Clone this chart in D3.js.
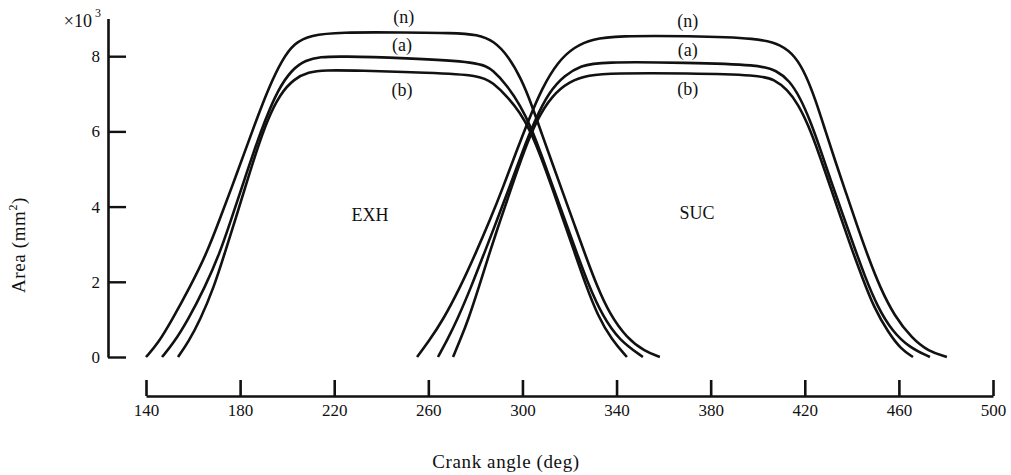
<html>
<script src='https://d3js.org/d3.v7.min.js'></script>
<style>
  body {margin: 0; background: #fff;}
  text {font-family: 'Liberation Serif', 'DejaVu Serif', serif; fill: #111;}
  .curve {fill: none; stroke: #111; stroke-width: 2.6;}
</style>
<body onload='init()'>
<svg width=1011 height=475></svg>
<script>
// crank angle (deg) vs area (x10^3 mm^2)
var exhN = [[140,0],[145,0.35],[151,0.98],[158.7,1.86],[165.9,2.77],[171.2,3.64],[176.5,4.52],[181.8,5.43],[186.9,6.3],[192.3,7.18],[197.8,7.9],[203,8.35],[210,8.56],[222,8.64],[250,8.63],[270,8.62],[281,8.58],[288,8.4],[294,8.0],[299.5,7.4],[304,6.7],[308.4,5.9],[313,5.1],[317.6,4.3],[322.2,3.5],[326.8,2.7],[331.6,1.9],[337,1.15],[344.4,0.5],[352,0.15],[358.4,0]];
var exhA = [[146.8,0],[151.5,0.35],[157.8,0.98],[165.1,1.86],[171.4,2.77],[176.1,3.64],[180.8,4.52],[185.6,5.43],[190.6,6.3],[196,7.1],[202,7.65],[208,7.9],[214,7.98],[222.4,8.0],[250,7.95],[282,7.85],[287.5,7.63],[293.5,7.22],[299,6.7],[303.8,6.1],[308.5,5.3],[313.4,4.45],[318.3,3.6],[323.2,2.75],[328.2,1.9],[334,1.1],[341,0.45],[351.2,0]];
var exhB = [[153.6,0],[158,0.4],[163,0.98],[168.9,1.86],[173.5,2.77],[177.9,3.64],[182.2,4.52],[186.7,5.43],[191.5,6.3],[197,7.0],[203,7.4],[209,7.58],[216,7.63],[230,7.62],[260,7.56],[282,7.5],[287.5,7.29],[293.5,6.93],[299,6.5],[303.5,6.0],[308,5.3],[312.6,4.5],[317.4,3.64],[322.2,2.77],[327,1.9],[332,1.1],[338,0.45],[344.4,0]];
var sucN = [[255.2,0],[260,0.4],[266.2,0.98],[273.6,1.86],[280.2,2.77],[286.2,3.64],[291.8,4.52],[297.2,5.43],[302.6,6.3],[308.3,7.15],[315,7.85],[322,8.25],[330,8.46],[340.2,8.54],[370,8.54],[400.9,8.48],[410,8.3],[416,8.0],[420.5,7.5],[424.5,6.85],[428.6,6.05],[433,5.2],[437.6,4.35],[442.2,3.5],[447,2.65],[452,1.85],[458,1.1],[465.5,0.5],[472.5,0.15],[480.4,0]];
var sucA = [[264.1,0],[268,0.45],[272.2,0.98],[278.2,1.86],[283.8,2.77],[289.2,3.64],[294.5,4.52],[299.8,5.43],[305.3,6.3],[311.3,7.05],[318,7.5],[325,7.75],[332.9,7.85],[370,7.83],[400.9,7.77],[408,7.62],[413.5,7.35],[418,6.9],[422.2,6.3],[426.5,5.55],[431,4.7],[435.8,3.85],[440.6,3.0],[445.5,2.15],[450.8,1.35],[457,0.7],[464.5,0.25],[473.2,0]];
var sucB = [[270.5,0],[273.5,0.45],[276.9,0.98],[281.5,1.86],[286,2.77],[290.6,3.64],[295.4,4.52],[300.4,5.43],[306,6.3],[312.5,6.95],[320,7.33],[328,7.5],[338.5,7.55],[370,7.55],[400.9,7.5],[407,7.38],[412.5,7.12],[417.2,6.72],[421.6,6.15],[425.8,5.45],[430.2,4.65],[434.8,3.8],[439.5,2.95],[444.5,2.1],[449.5,1.3],[455.5,0.65],[461,0.2],[466,0]];

var xTicks = [140,180,220,260,300,340,380,420,460,500];
var yTicks = [0,2,4,6,8];

function init() {
  var svg = d3.select("svg");
  var x_scale = d3.scaleLinear().domain([140,500]).range([146,993]);
  var y_scale = d3.scaleLinear().domain([0,9]).range([357,18.6]);

  // y axis, ticks pointing into the plot
  var y_axis = d3.axisLeft(y_scale).tickValues(yTicks)
                 .tickSizeInner(-18).tickSizeOuter(0).tickPadding(8);
  var gy = svg.append("g").attr("transform", "translate(108,0)").call(y_axis);
  gy.select(".domain").attr("stroke", "#111").attr("stroke-width", 2.6);
  gy.selectAll(".tick line").attr("stroke", "#111").attr("stroke-width", 2.4);
  gy.selectAll(".tick text").attr("font-size", 17).attr("font-family", "Liberation Serif").attr("fill", "#111");

  // x axis, separate line below
  var x_axis = d3.axisBottom(x_scale).tickValues(xTicks)
                 .tickSizeInner(-16).tickSizeOuter(0).tickPadding(8);
  var gx = svg.append("g").attr("transform", "translate(0,396)").call(x_axis);
  gx.select(".domain").attr("stroke", "#111").attr("stroke-width", 2.4);
  gx.selectAll(".tick line").attr("stroke", "#111").attr("stroke-width", 2.6);
  gx.selectAll(".tick text").attr("font-size", 17).attr("font-family", "Liberation Serif").attr("fill", "#111");

  var line = d3.line()
      .x(function(d){return x_scale(d[0]);})
      .y(function(d){return y_scale(d[1]);})
      .curve(d3.curveBasis);

  svg.selectAll("path.curve")
     .data([exhN, exhA, exhB, sucN, sucA, sucB]).enter()
     .append("path").attr("class", "curve").attr("d", line);

  // curve labels
  var labels = [["(n)",249.6,9.04],["(a)",248.8,8.3],["(b)",248.8,7.1],
                ["(n)",370.3,8.94],["(a)",370.3,8.16],["(b)",370.3,7.13],
                ["EXH",235.2,3.78],["SUC",374.2,3.83]];
  svg.selectAll("text.lab").data(labels).enter().append("text")
     .attr("class", "lab")
     .attr("x", function(d){return x_scale(d[1]);})
     .attr("y", function(d){return y_scale(d[2]);})
     .attr("dy", "0.35em")
     .attr("text-anchor", "middle")
     .attr("font-size", function(d){return d[0].length > 3 ? 19 : 18;})
     .text(function(d){return d[0];});

  // multiplier
  svg.append("text").attr("x", 92).attr("y", 27).attr("text-anchor", "end")
     .attr("font-size", 18).text("\u00d710");
  svg.append("text").attr("x", 95).attr("y", 17).attr("font-size", 12).text("3");

  svg.append("text").attr("x", 506).attr("y", 468).attr("text-anchor", "middle")
     .attr("font-size", 19).attr("letter-spacing", 0.6).text("Crank angle (deg)");

  var yl = svg.append("text").attr("transform", "translate(25,245) rotate(-90)")
     .attr("text-anchor", "middle").attr("font-size", 19).attr("letter-spacing", 0.6);
  yl.append("tspan").text("Area (mm");
  yl.append("tspan").attr("font-size", 12).attr("dy", "-8").text("2");
  yl.append("tspan").attr("dy", "8").text(")");
}
</script>
</body>
</html>
